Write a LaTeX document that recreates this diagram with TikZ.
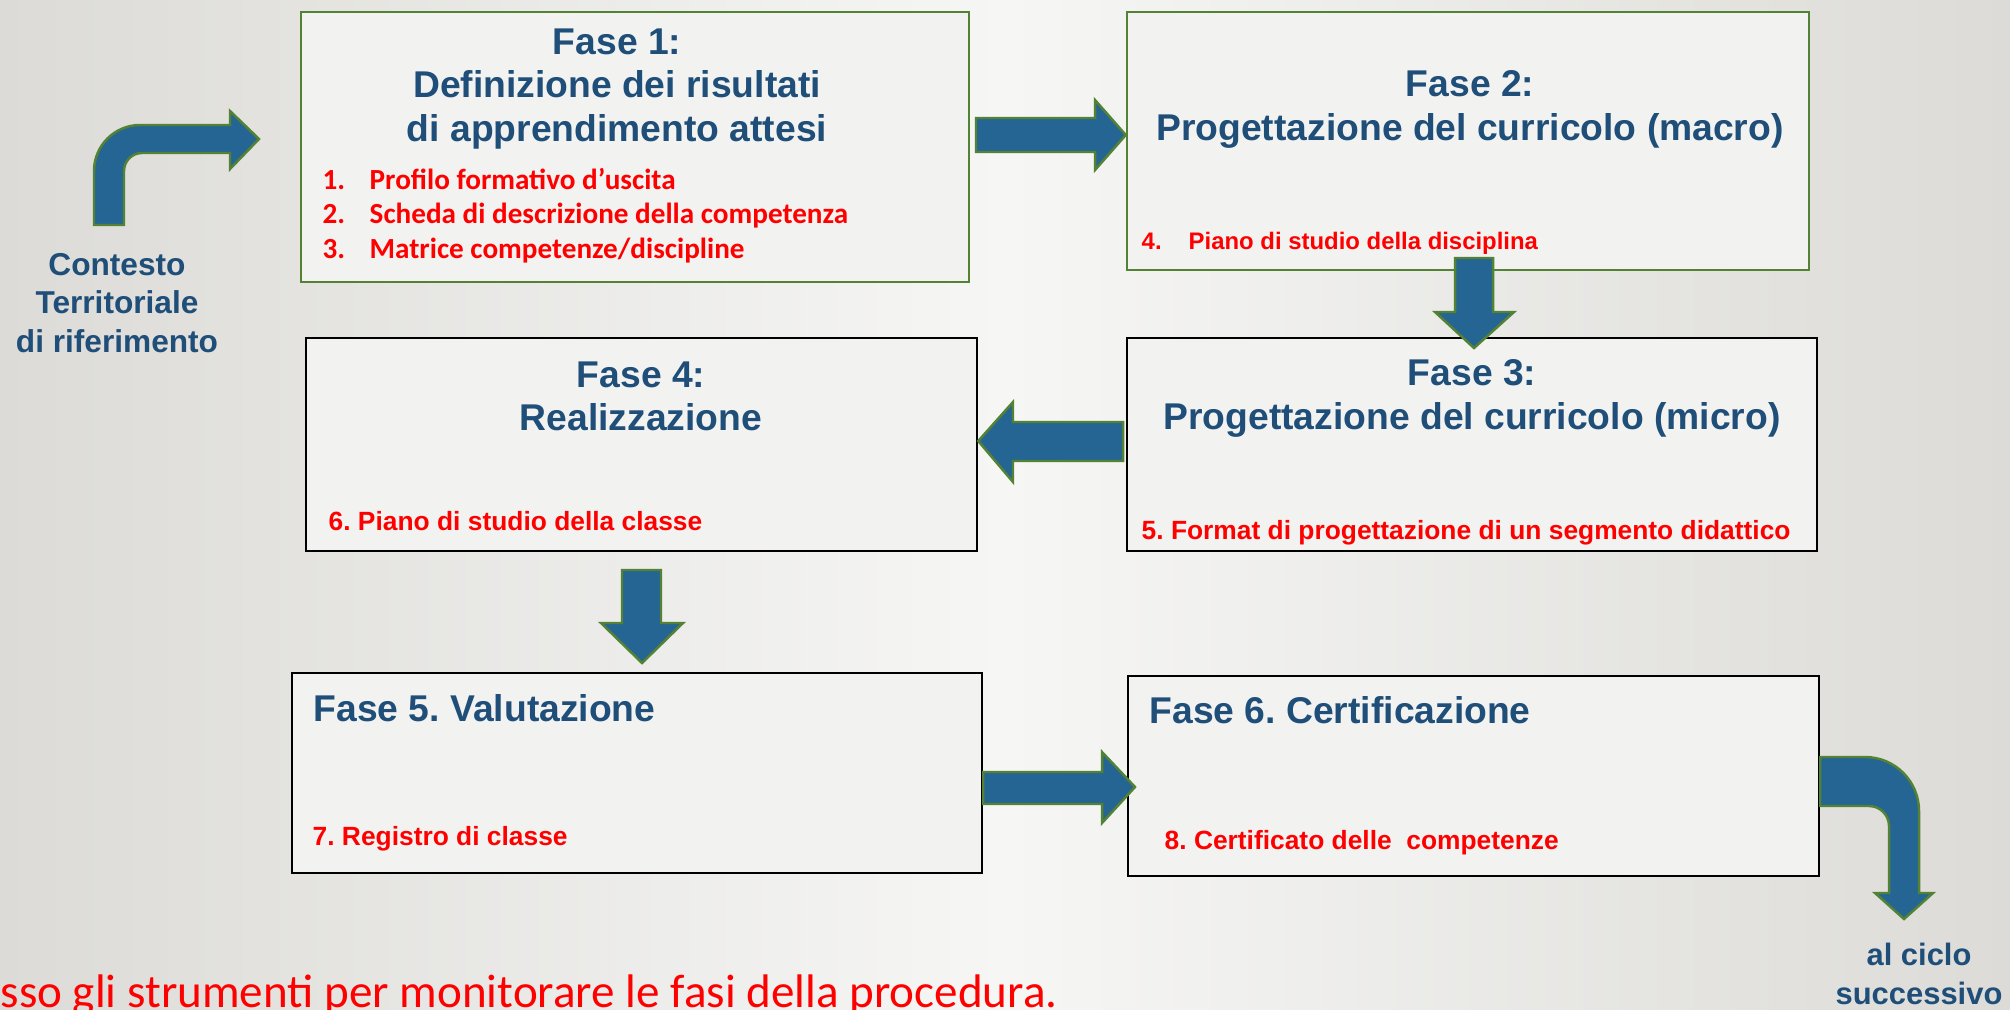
\documentclass[tikz,border=0pt]{standalone}
\usepackage{fontspec}
\usepackage{xcolor}
\usepackage{tikz}
\usetikzlibrary{calc}
\setmainfont{Liberation Sans}
\newfontfamily\calibri{Carlito}
\frenchspacing

\definecolor{bgside}{RGB}{220,219,215}
\definecolor{bgmid}{RGB}{246,246,245}
\definecolor{boxfill}{RGB}{242,242,241}
\definecolor{titleblue}{RGB}{31,78,121}
\definecolor{arrowblue}{RGB}{36,101,148}
\definecolor{arrowgreen}{RGB}{84,130,53}

\tikzset{
    box/.style={draw=black, line width=0.7pt, fill=boxfill, inner sep=0pt},
    greenbox/.style={box, draw=arrowgreen},
    title/.style={text=titleblue, font=\fontsize{10.6}{12.4}\selectfont\bfseries, align=center},
    tool/.style={text=red, font=\fontsize{7.5}{9}\selectfont\bfseries, anchor=west, inner sep=0pt},
    barrow/.style={fill=arrowblue, draw=arrowgreen, line width=0.7pt, line join=miter},
}

\begin{document}
\begin{tikzpicture}
    \useasboundingbox (0,0) rectangle (20.1,10.09);
    \clip (0,0) rectangle (20.1,10.09);
    \shade[left color=bgside, right color=bgside, middle color=bgmid] (0,0) rectangle (20.1,10.09);

    % phases
    \node[greenbox, minimum width=6.68cm, minimum height=2.70cm] (f1) at (6.35,8.62) {};
    \node[greenbox, minimum width=6.82cm, minimum height=2.58cm] (f2) at (14.68,8.68) {};
    \node[box, minimum width=6.90cm, minimum height=2.13cm] (f3) at (14.72,5.645) {};
    \node[box, minimum width=6.71cm, minimum height=2.13cm] (f4) at (6.415,5.645) {};
    \node[box, minimum width=6.90cm, minimum height=2.00cm] (f5) at (6.37,2.36) {};
    \node[box, minimum width=6.91cm, minimum height=2.00cm] (f6) at (14.735,2.33) {};

    \node[title] (t1) at (6.17,9.20) {Fase 1:\\Definizione dei risultati\\di apprendimento attesi};
    \node[anchor=west, inner sep=0pt, align=left, text=red,
          font=\calibri\fontsize{8.3}{9.85}\selectfont\bfseries] (l1) at (3.22,7.935)
          {\makebox[0.47cm][l]{1.}Profilo formativo d’uscita\\
           \makebox[0.47cm][l]{2.}Scheda di descrizione della competenza\\
           \makebox[0.47cm][l]{3.}Matrice competenze/discipline};

    \node[title] (t2) at (14.70,8.995) {Fase 2:\\Progettazione del curricolo (macro)};
    \node[tool, font=\fontsize{6.8}{8}\selectfont\bfseries] (l2) at (11.41,7.655) {\makebox[0.47cm][l]{4.}Piano di studio della disciplina};

    \node[title] (t3) at (14.72,6.105) {Fase 3:\\Progettazione del curricolo (micro)};
    \node[tool] (l3) at (11.41,4.765) {5. Format di progettazione di un segmento didattico};

    \node[title] (t4) at (6.41,6.125) {Fase 4:\\Realizzazione};
    \node[tool] (l4) at (3.28,4.875) {6. Piano di studio della classe};

    \node[title, anchor=west, inner sep=0pt] (t5) at (3.13,3.01) {Fase 5. Valutazione};
    \node[tool] (l5) at (3.12,1.705) {7. Registro di classe};

    \node[title, anchor=west, inner sep=0pt] (t6) at (11.49,2.99) {Fase 6. Certificazione};
    \node[tool] (l6) at (11.64,1.665) {8. Certificato delle\ \ competenze};

    % side labels
    \node[text=titleblue, font=\fontsize{9}{11}\selectfont\bfseries, align=center] (ctx) at (1.17,7.06) {Contesto\\Territoriale\\di riferimento};
    \node[text=titleblue, font=\fontsize{8.8}{11.2}\selectfont\bfseries, align=center] (next) at (19.19,0.35) {al ciclo\\successivo};
    \node[anchor=base west, inner sep=0pt, text=red, font=\calibri\fontsize{13.4}{16}\selectfont] (note) at (0,0.02) {sso gli strumenti per monitorare le fasi della procedura.};

    % block arrows
    \draw[barrow] (0.94,7.84) -- (0.94,8.38) arc[start angle=180, end angle=90, radius=0.46]
        -- (2.30,8.84) -- (2.30,8.98) -- (2.59,8.70) -- (2.30,8.40) -- (2.30,8.56) -- (1.42,8.56)
        arc[start angle=90, end angle=180, radius=0.18] -- (1.24,7.84) -- cycle;
    \draw[barrow] (9.76,8.91) -- (10.95,8.91) -- (10.95,9.09) -- (f2.west |- 0,8.74)
        -- (10.95,8.39) -- (10.95,8.57) -- (9.76,8.57) -- cycle;
    \draw[barrow] (14.55,7.51) -- (14.55,6.97) -- (14.35,6.97) -- (14.74,6.61)
        -- (15.14,6.97) -- (14.93,6.97) -- (14.93,7.51) -- cycle;
    \draw[barrow] (11.23,5.87) -- (10.13,5.87) -- (10.13,6.07) -- (f4.east |- 0,5.68)
        -- (10.13,5.27) -- (10.13,5.48) -- (11.23,5.48) -- cycle;
    \draw[barrow] (6.22,4.39) -- (6.22,3.86) -- (6.01,3.86) -- (6.42,3.46)
        -- (6.83,3.86) -- (6.61,3.86) -- (6.61,4.39) -- cycle;
    \draw[barrow] (f5.east |- 0,2.37) -- (11.02,2.37) -- (11.02,2.57) -- (11.35,2.22)
        -- (11.02,1.86) -- (11.02,2.05) -- (f5.east |- 0,2.05) -- cycle;
    \draw[barrow] (f6.east |- 0,2.52) -- (18.65,2.52) arc[start angle=90, end angle=0, radius=0.54]
        -- (19.19,1.16) -- (19.33,1.16) -- (19.04,0.90) -- (18.75,1.16) -- (18.89,1.16) -- (18.89,1.83)
        arc[start angle=0, end angle=90, radius=0.2] -- (f6.east |- 0,2.03) -- cycle;

\end{tikzpicture}
\end{document}
